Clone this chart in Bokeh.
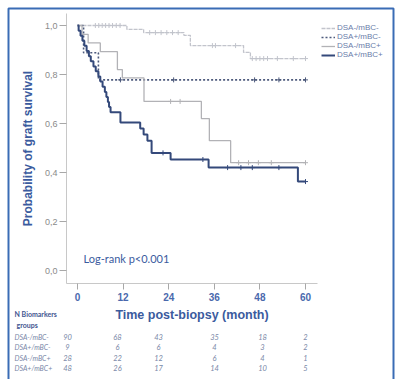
from bokeh.plotting import figure
from bokeh.models import (Range1d, FixedTicker, CustomJSTickFormatter, Legend, LegendItem,
                          Label, LabelSet, ColumnDataSource)
from bokeh.core.properties import value
from bokeh.embed import file_html
from bokeh.resources import INLINE

# ---------------- data ----------------
groups = ["DSA-/mBC-", "DSA+/mBC-", "DSA-/mBC+", "DSA+/mBC+"]

# DSA-/mBC-
t1 = [0, 13.0, 17.4, 28.0, 29.7, 43.7, 45.5, 60]
s1 = [1.0, 0.984, 0.971, 0.960, 0.918, 0.890, 0.865, 0.865]
c1_t = [4.7, 5.6, 6.5, 7.4, 8.3, 9.2, 10.2, 11.2, 19.0, 20.5, 22.0, 23.5, 25.0, 26.5,
        35.5, 36.3, 41.6, 46.0, 47.0, 48.0, 49.0, 50.0, 52.6, 56.8, 60.0]
c1_s = [1.0, 1.0, 1.0, 1.0, 1.0, 1.0, 1.0, 1.0, 0.971, 0.971, 0.971, 0.971, 0.971, 0.971,
        0.918, 0.918, 0.918, 0.865, 0.865, 0.865, 0.865, 0.865, 0.865, 0.865, 0.865]

# DSA+/mBC-
t2 = [0, 1.6, 5.5, 60]
s2 = [1.0, 0.889, 0.778, 0.778]
c2_t = [11.3, 25.3, 46.6, 53.0, 60.0]
c2_s = [0.778, 0.778, 0.778, 0.778, 0.778]

# DSA-/mBC+
t3 = [0, 1.2, 2.8, 6.0, 10.5, 11.8, 17.5, 32.6, 34.7, 40.3, 60]
s3 = [1.0, 0.964, 0.929, 0.893, 0.820, 0.786, 0.690, 0.620, 0.530, 0.440, 0.440]
c3_t = [24.5, 27.0, 42.4, 45.0, 47.6, 51.0, 60.0]
c3_s = [0.690, 0.690, 0.440, 0.440, 0.440, 0.440, 0.440]

# DSA+/mBC+
t4 = [0, 0.3, 0.8, 1.3, 1.8, 2.4, 3.0, 3.5, 4.2, 4.8, 5.5, 6.0, 6.6, 7.2, 7.6, 8.0, 8.3, 8.7,
      11.3, 16.5, 17.4, 18.4, 19.5, 24.5, 34.5, 58.0, 60]
s4 = [1.0, 0.979, 0.958, 0.938, 0.917, 0.896, 0.875, 0.854, 0.833, 0.813, 0.792, 0.771, 0.750,
      0.729, 0.708, 0.688, 0.667, 0.646, 0.604, 0.580, 0.555, 0.530, 0.480, 0.453, 0.420, 0.363, 0.363]
c4_t = [22.5, 33.0, 39.5, 43.0, 46.0, 53.0, 60.0]
c4_s = [0.480, 0.453, 0.420, 0.420, 0.420, 0.420, 0.363]

x_ticks = [0, 12, 24, 36, 48, 60]
y_ticks = [0.0, 0.2, 0.4, 0.6, 0.8, 1.0]

n_at_risk = [
    [90, 68, 43, 35, 18, 2],
    [9, 6, 6, 4, 3, 2],
    [28, 22, 12, 6, 4, 1],
    [48, 26, 17, 14, 10, 5],
]

x_title = "Time post-biopsy (month)"
y_title = "Probability of graft survival"
stat_text = "Log-rank p<0.001"
table_head = ["N Biomarkers", "groups"]

# ---------------- layout (page-pixel geometry) ----------------
W, H = 396, 379
X_ORIGIN, PX_PER_MONTH = 77.0, 3.8      # page x of month 0, pixels per month
Y_ORIGIN, PX_PER_UNIT = 270.0, 245.0    # page y of probability 0, pixels per unit
FL, FT, FR, FB = 0, 0, 396, 379         # frame in page pixels


def mx(px):
    return (px - X_ORIGIN) / PX_PER_MONTH


def vy(py):
    return (Y_ORIGIN - py) / PX_PER_UNIT


colors = ["#c2c4cc", "#4d5a7c", "#b2b2b6", "#34497a"]
dashes = ["4 1", "2 2", "solid", "solid"]
widths = [1.3, 1.6, 1.3, 2.0]
AX_BLUE = "#3b5b9e"
TXT_GREY = "#7a88a8"

p = figure(width=W, height=H, output_backend="svg", toolbar_location=None,
           x_range=Range1d(mx(FL), mx(FR)), y_range=Range1d(vy(FB), vy(FT)),
           min_border_left=0, min_border_top=0, min_border_right=0, min_border_bottom=0)
p.outline_line_color = None
p.grid.visible = False
p.background_fill_color = "white"
p.border_fill_color = "white"

# outer blue frame (left, top, right; bottom edge lies below the page)
bx = [mx(8), mx(8), mx(393), mx(393)]
by = [vy(390), vy(8), vy(8), vy(390)]
p.line(bx, by, line_color="#3a6cb5", line_width=2)

axis_left, axis_right, axis_top, axis_bottom = 66, 317, 13, 283

xa = p.xaxis[0]
xa.fixed_location = vy(axis_bottom)
xa.bounds = (mx(axis_left), mx(axis_right))
xa.ticker = FixedTicker(ticks=x_ticks)
xa.axis_line_color = "#c8c8c8"
xa.major_tick_line_color = "#a8a8a8"
xa.major_tick_out = 6
xa.major_tick_in = 0
xa.minor_tick_line_color = None
xa.major_label_text_color = "#4a69ad"
xa.major_label_text_font = "Liberation Sans"
xa.major_label_text_font_size = "10px"
xa.major_label_text_font_style = "bold"
xa.major_label_standoff = 3
xa.axis_label = x_title
xa.axis_label_text_font = "Liberation Sans"
xa.axis_label_text_font_size = "12.5px"
xa.axis_label_text_font_style = "bold"
xa.axis_label_text_color = AX_BLUE
xa.axis_label_standoff = 4

ya = p.yaxis[0]
ya.fixed_location = mx(axis_left)
ya.bounds = (vy(axis_bottom), vy(axis_top))
ya.ticker = FixedTicker(ticks=y_ticks)
ya.formatter = CustomJSTickFormatter(code="return tick.toFixed(1).replace('.', ',');")
ya.axis_line_color = "#c8c8c8"
ya.major_tick_line_color = "#a8a8a8"
ya.major_tick_out = 7
ya.major_tick_in = 0
ya.minor_tick_line_color = None
ya.major_label_text_color = "#8a8a8a"
ya.major_label_text_font = "Liberation Sans"
ya.major_label_text_font_size = "9px"
ya.major_label_standoff = 2
ya.axis_label = y_title
ya.axis_label_text_font = "Liberation Sans"
ya.axis_label_text_font_size = "12px"
ya.axis_label_text_font_style = "bold"
ya.axis_label_text_color = AX_BLUE
ya.axis_label_standoff = 7

series = [(t1, s1, c1_t, c1_s), (t2, s2, c2_t, c2_s), (t3, s3, c3_t, c3_s), (t4, s4, c4_t, c4_s)]
items = []
for i, (t, s, ct, cs) in enumerate(series):
    r = p.step(t, s, mode="after", line_color=colors[i], line_width=widths[i],
               line_dash=dashes[i])
    p.scatter(ct, cs, marker="cross", size=5, line_color=colors[i], line_width=1)
    items.append(LegendItem(label=groups[i], renderers=[r]))

legend = Legend(items=items, location=(321 - FL, FB - 59),
                label_text_font="Liberation Sans", label_text_font_size="8px",
                label_text_color="#6a7daa", glyph_width=14, glyph_height=8,
                label_height=8, spacing=0, padding=1, margin=0, label_standoff=2,
                border_line_color=None, background_fill_alpha=0)
p.add_layout(legend)

p.add_layout(Label(x=mx(83), y=vy(258), text=stat_text, text_font="Lato",
                   text_font_size="11px", text_color=AX_BLUE, text_baseline="middle"))

# ---------------- number-at-risk table ----------------
name_x = mx(14)
table_x = [mx(67), mx(117), mx(158), mx(214), mx(262), mx(305)]
row_y = [vy(336), vy(346.5), vy(357), vy(367.5)]

p.add_layout(Label(x=name_x, y=vy(313), text=table_head[0], text_font="Lato",
                   text_font_size="7px", text_font_style="bold", text_color="#3f5590",
                   text_baseline="middle"))
p.add_layout(Label(x=mx(16), y=vy(324), text=table_head[1], text_font="Lato",
                   text_font_size="7px", text_font_style="bold", text_color="#3f5590",
                   text_baseline="middle"))

name_src = ColumnDataSource(dict(x=[name_x] * len(groups), y=row_y, t=groups))
p.add_layout(LabelSet(x="x", y="y", text="t", source=name_src, text_font=value("Lato"),
                      text_font_size="7px", text_font_style="italic",
                      text_color=TXT_GREY, text_baseline="middle"))

nx, ny, nt = [], [], []
for i, row in enumerate(n_at_risk):
    for j, n in enumerate(row):
        nx.append(table_x[j])
        ny.append(row_y[i])
        nt.append(str(n))
num_src = ColumnDataSource(dict(x=nx, y=ny, t=nt))
p.add_layout(LabelSet(x="x", y="y", text="t", source=num_src, text_font=value("Lato"),
                      text_font_size="7.5px", text_font_style="italic",
                      text_color=TXT_GREY, text_align="center", text_baseline="middle"))

open("out.html", "w").write(file_html(p, INLINE))
